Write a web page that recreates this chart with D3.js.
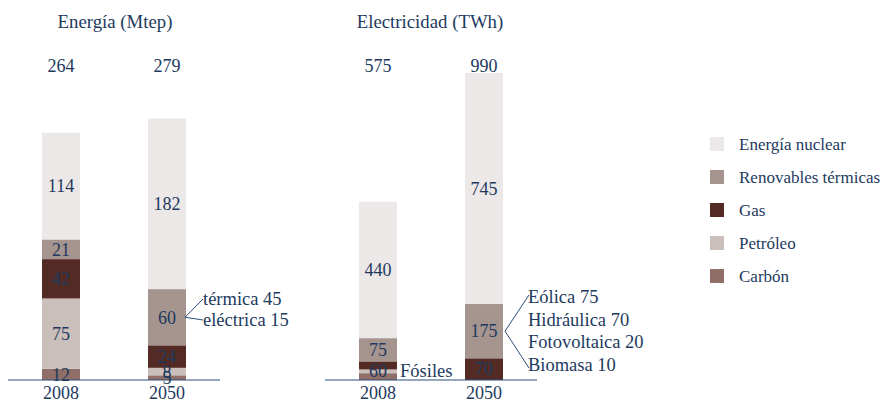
<!DOCTYPE html>
<html>
<head>
<meta charset="utf-8">
<script src="https://cdn.jsdelivr.net/npm/d3@7"></script>
<style>
  body { margin: 0; background: #fff; }
</style>
</head>
<body>
<div id="chart"></div>
<script>
// data
const categories = ["Carbón", "Petróleo", "Gas", "Renovables térmicas", "Energía nuclear"];
const legendOrder = ["Energía nuclear", "Renovables térmicas", "Gas", "Petróleo", "Carbón"];
const colors = ["#8f6f68", "#cbbfbb", "#532b24", "#a6948e", "#ede8e8"];
const years = ["2008", "2050"];

const energy2008 = [12, 75, 42, 21, 114];
const energy2050 = [5, 8, 24, 60, 182];
const energyTotals = [264, 279];

// electricity 2008: fossil 60 split between carbón / petróleo / gas
const elec2008 = [22, 12, 26, 75, 440];
const elec2050 = [0, 0, 70, 175, 745];
const elecTotals = [575, 990];
const elecFossil2008 = 60;

const renovEnergyDetail = ["térmica 45", "eléctrica 15"];
const renovElecDetail = ["Eólica 75", "Hidráulica 70", "Fotovoltaica 20", "Biomasa 10"];

const width = 887, height = 400;
const base = 380, barW = 38;
const ink = "#1d3a5e";
const font = '"Liberation Serif", "Times New Roman", serif';

const svg = d3.select("#chart").append("svg")
  .attr("width", width)
  .attr("height", height);

const color = d3.scaleOrdinal().domain(categories).range(colors);

function txt(g, x, y, size, s) {
  return g.append("text")
    .attr("x", x)
    .attr("y", y)
    .attr("font-size", size)
    .attr("fill", ink)
    .style("font-family", font)
    .text(s);
}

function stackOf(values) {
  let acc = 0;
  return values.map((v, i) => {
    const s = { cat: categories[i], y0: acc, y1: acc + v, v: v };
    acc += v;
    return s;
  });
}

function drawPanel(g, x0, x1, y, series, totals, title, titleX) {
  const x = d3.scalePoint().domain(years).range([x0, x1]).padding(0.5);

  txt(g, titleX, 28, 18.8, title).attr("text-anchor", "middle");

  series.forEach((vals, i) => {
    const cx = x(years[i]);
    const st = stackOf(vals).filter(d => d.v > 0);
    g.selectAll(null)
      .data(st)
      .enter().append("rect")
      .attr("x", cx - barW / 2)
      .attr("width", barW)
      .attr("y", d => y(d.y1))
      .attr("height", d => y(d.y0) - y(d.y1))
      .attr("fill", d => color(d.cat));

    txt(g, cx, 72, 18, totals[i]).attr("text-anchor", "middle");
    txt(g, cx, 399, 18, years[i]).attr("text-anchor", "middle");
  });

  g.append("line")
    .attr("x1", x0).attr("x2", x1)
    .attr("y1", base).attr("y2", base)
    .attr("stroke", "#2a4f78")
    .attr("stroke-width", 1);

  return x;
}

function segLabel(g, cx, y, a, b, label) {
  txt(g, cx, (y(a) + y(b)) / 2, 18, label)
    .attr("dy", "0.35em")
    .attr("text-anchor", "middle");
}

// left panel: energía
const yE = d3.scaleLinear().domain([0, 270]).range([base, 127]);
const gE = svg.append("g");
const xE = drawPanel(gE, 8, 220, yE, [energy2008, energy2050], energyTotals, "Energía (Mtep)", 115);
[energy2008, energy2050].forEach((vals, i) => {
  stackOf(vals).forEach(d => segLabel(gE, xE(years[i]), yE, d.y0, d.y1, d.v));
});

// right panel: electricidad
const yL = d3.scaleLinear().domain([0, 990]).range([base, 73]);
const gL = svg.append("g");
const xL = drawPanel(gL, 325, 537, yL, [elec2008, elec2050], elecTotals, "Electricidad (TWh)", 430);
stackOf(elec2008).slice(3).forEach(d => segLabel(gL, xL("2008"), yL, d.y0, d.y1, d.v));
segLabel(gL, xL("2008"), yL, 0, elecFossil2008, elecFossil2008);
stackOf(elec2050).filter(d => d.v > 0).forEach(d => segLabel(gL, xL("2050"), yL, d.y0, d.y1, d.v));

txt(gL, xL("2008") + barW / 2 + 3, (yL(0) + yL(elecFossil2008)) / 2, 18.5, "Fósiles")
  .attr("dy", "0.35em");

// annotation: renovables energía 2050
const rE = stackOf(energy2050)[3];
const apexE = [xE("2050") + barW / 2 - 1, (yE(rE.y0) + yE(rE.y1)) / 2];
const lineE = d3.line();
[299, 320].forEach(ty => {
  gE.append("path")
    .attr("d", lineE([apexE, [203, ty]]))
    .attr("fill", "none")
    .attr("stroke", "#2a4f78")
    .attr("stroke-width", 1);
});
renovEnergyDetail.forEach((t, i) => {
  txt(gE, 203, 305 + i * 21, 18.5, t);
});

// annotation: renovables electricidad 2050
const rL = stackOf(elec2050)[3];
const apexL = [xL("2050") + barW / 2 + 2, (yL(rL.y0) + yL(rL.y1)) / 2];
[295, 368].forEach(ty => {
  gL.append("path")
    .attr("d", lineE([apexL, [529, ty]]))
    .attr("fill", "none")
    .attr("stroke", "#2a4f78")
    .attr("stroke-width", 1);
});
renovElecDetail.forEach((t, i) => {
  txt(gL, 528, 303 + i * 22.5, 18.5, t);
});

// legend
const legend = svg.append("g").attr("transform", "translate(710,144)");
legendOrder.forEach((d, i) => {
  const row = legend.append("g").attr("transform", `translate(0,${i * 33})`);
  row.append("rect")
    .attr("x", 0).attr("y", -7)
    .attr("width", 14).attr("height", 14)
    .attr("fill", color(d));
  txt(row, 29, 0, 17, d).attr("dy", "0.35em");
});
</script>
</body>
</html>
